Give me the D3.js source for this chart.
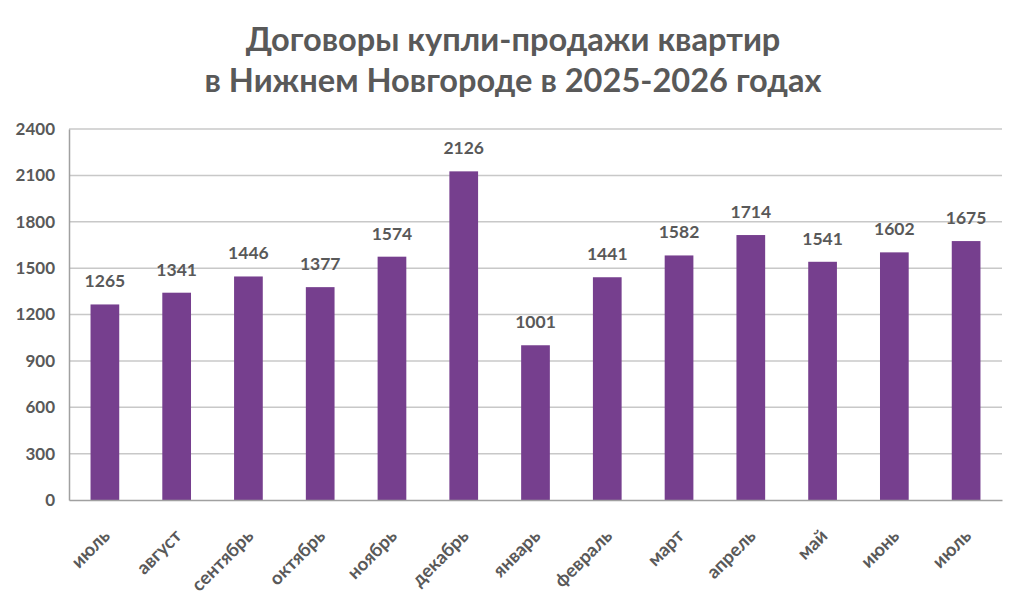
<!DOCTYPE html>
<html><head><meta charset="utf-8">
<script src="https://cdn.jsdelivr.net/npm/d3@7"></script>
<style>body{margin:0;background:#fff}svg{display:block}</style>
</head><body>
<script>
const titleLines = ["Договоры купли-продажи квартир", "в Нижнем Новгороде в 2025-2026 годах"];
const months = ["июль","август","сентябрь","октябрь","ноябрь","декабрь","январь","февраль","март","апрель","май","июнь","июль"];
const values = [1265,1341,1446,1377,1574,2126,1001,1441,1582,1714,1541,1602,1675];
const yTicks = [0,300,600,900,1200,1500,1800,2100,2400];

const W = 1024, H = 605;
const m = {left: 69, right: 22, top: 129, bottom: 105};
const svg = d3.select("body").append("svg").attr("width", W).attr("height", H);
const font = "Lato, 'Open Sans', sans-serif";
const grey = "#595959";

svg.selectAll("text.title").data(titleLines).enter().append("text")
  .attr("x", W/2 + 1).attr("y", (d,i) => 51 + i*41)
  .attr("text-anchor","middle").attr("font-family", font).attr("font-weight","bold")
  .attr("font-size", 32.6).attr("fill", grey).text(d => d);

const x = d3.scaleBand().domain(d3.range(months.length)).range([m.left, W - m.right]).paddingInner(0.6).paddingOuter(0.3);
const y = d3.scaleLinear().domain([0, 2400]).range([H - m.bottom, m.top]);

// gridlines
svg.append("g").selectAll("line").data(yTicks.filter(d => d > 0)).enter().append("line")
  .attr("x1", m.left).attr("x2", W - m.right)
  .attr("y1", d => y(d)).attr("y2", d => y(d))
  .attr("stroke", "#c8c8c8").attr("stroke-width", 1.5);

// y axis
const yAxis = svg.append("g").attr("transform", `translate(${m.left},0)`)
  .call(d3.axisLeft(y).tickValues(yTicks).tickSize(0).tickPadding(14).tickFormat(d3.format("d")));
yAxis.select(".domain").attr("stroke", "#a0a0a0").attr("stroke-width", 1.5);
yAxis.selectAll("text").attr("font-family", font).attr("font-weight","bold")
  .attr("font-size", 17).attr("fill", grey);

// bars
svg.append("g").selectAll("rect").data(values).enter().append("rect")
  .attr("x", (d,i) => x(i)).attr("width", x.bandwidth())
  .attr("y", d => y(d)).attr("height", d => y(0) - y(d))
  .attr("fill", "#763f8e");

// value labels
svg.append("g").selectAll("text").data(values).enter().append("text")
  .attr("x", (d,i) => x(i) + x.bandwidth()/2).attr("y", d => y(d) - 17)
  .attr("text-anchor","middle").attr("font-family", font).attr("font-weight","bold")
  .attr("font-size", 17.5).attr("fill", grey).text(d => d);

// x axis
const xAxis = svg.append("g").attr("transform", `translate(0,${y(0)})`)
  .call(d3.axisBottom(x).tickSize(0).tickFormat(i => months[i]));
xAxis.select(".domain").attr("stroke", "#a0a0a0").attr("stroke-width", 1.5);
xAxis.selectAll("text")
  .attr("font-family", font).attr("font-weight","bold").attr("font-size", 18.5).attr("fill", grey)
  .attr("text-anchor","end").attr("dx", 0).attr("dy", 0)
  .attr("transform", "translate(4,35) rotate(-45)");
</script>
</body></html>
